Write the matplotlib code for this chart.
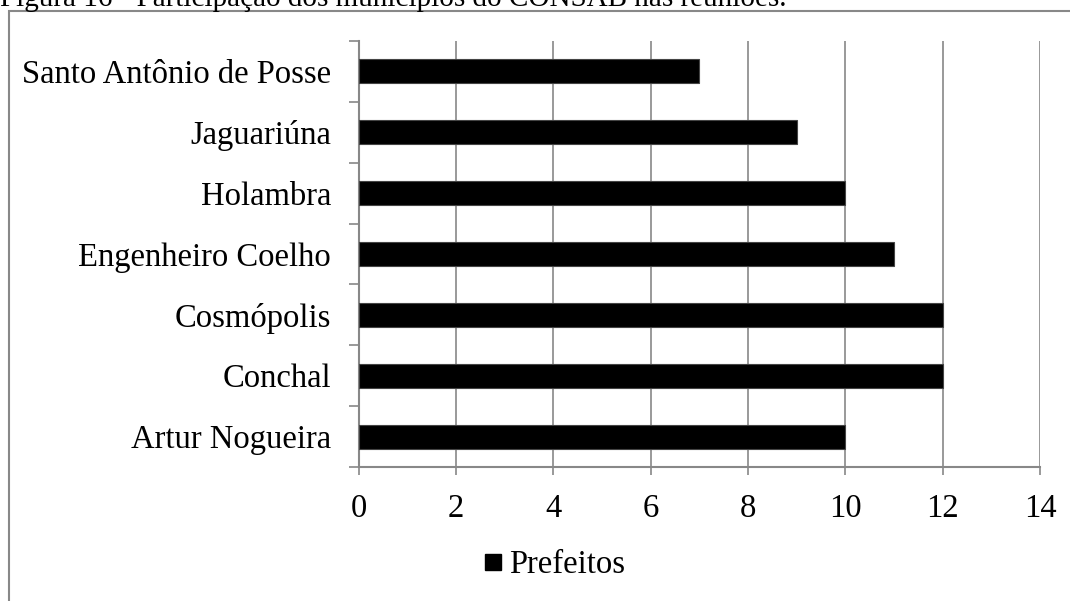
import matplotlib
matplotlib.use("Agg")
import matplotlib.pyplot as plt
from matplotlib.patches import Rectangle
from matplotlib.lines import Line2D

municipios = ["Artur Nogueira", "Conchal", "Cosmópolis", "Engenheiro Coelho",
              "Holambra", "Jaguariúna", "Santo Antônio de Posse"]
prefeitos = [10, 12, 12, 11, 10, 9, 7]
xticks = [0, 2, 4, 6, 8, 10, 12, 14]
serie = "Prefeitos"
legenda_titulo = "Figura 16 - Participação dos municípios do CONSAB nas reuniões."

plt.rcParams["font.family"] = ["Liberation Serif", "DejaVu Serif"]
W, H = 1070, 601
fig = plt.figure(figsize=(W / 100, H / 100), dpi=100)
fig.patch.set_facecolor("white")

grey = "#888888"

# caption above the frame
fig.text(0.0, 1 - 6 / H, legenda_titulo, fontsize=21, va="baseline", ha="left")

# chart frame
fig.patches.append(Rectangle((8.5 / W, -0.05), 1.1, (H - 11.5) / H + 0.05,
                             transform=fig.transFigure, fill=False,
                             edgecolor=grey, linewidth=1.5))

ax = fig.add_axes([358.5 / W, 1 - 467 / H, (1040 - 358.5) / W, (467 - 41) / H])
ypos = list(range(len(municipios)))
ax.barh(ypos, prefeitos, height=0.395, color="black", edgecolor="#444444",
        linewidth=0.8, label=serie, zorder=3)

ax.set_xlim(0, 14)
ax.set_ylim(-0.5, len(municipios) - 0.5)
ax.set_xticks(xticks)
ax.set_xticklabels([str(v) for v in xticks])
ax.set_yticks(ypos)
ax.set_yticklabels(municipios)
ax.set_yticks([i - 0.5 for i in range(len(municipios) + 1)], minor=True)

ax.tick_params(axis="y", which="major", length=0, pad=19.8, labelsize=23.5)
ax.tick_params(axis="y", which="minor", length=7, color=grey, width=1.2)
ax.tick_params(axis="x", length=6, color=grey, width=1.2, pad=13, labelsize=23.5)

ax.grid(axis="x", color=grey, linewidth=1.2, zorder=0)
for s in ("top", "right"):
    ax.spines[s].set_visible(False)
for s in ("left", "bottom"):
    ax.spines[s].set_color(grey)
    ax.spines[s].set_linewidth(1.5)

handle = Line2D([], [], marker="s", color="black", linestyle="none", markersize=11.5)
fig.legend([handle], [serie], loc="center", bbox_to_anchor=(553 / W, 1 - 565 / H),
           frameon=False, fontsize=23.5, handletextpad=0.15, handlelength=0.7)

fig.savefig("out.png", dpi=100)
